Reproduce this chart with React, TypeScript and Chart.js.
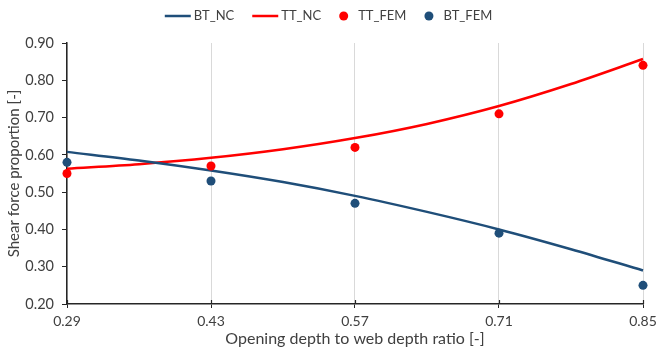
import React, { useEffect, useRef } from "react";
import { Chart, registerables } from "chart.js";

Chart.register(...registerables);

const xTicks = [0.29, 0.43, 0.57, 0.71, 0.85];
const yTicks = [0.2, 0.3, 0.4, 0.5, 0.6, 0.7, 0.8, 0.9];
const femX = [0.29, 0.43, 0.57, 0.71, 0.85];
const ttFem = [0.55, 0.57, 0.62, 0.71, 0.84];
const btFem = [0.58, 0.53, 0.47, 0.39, 0.25];
const ncX = [0.29, 0.36, 0.43, 0.5, 0.57, 0.64, 0.71, 0.78, 0.85];
const btNc = [0.608, 0.585, 0.558, 0.527, 0.49, 0.447, 0.4, 0.347, 0.29];
const ttNc = [0.563, 0.575, 0.592, 0.615, 0.645, 0.683, 0.731, 0.79, 0.857];

const BLUE = "#1f4e79";
const RED = "#ff0000";
const TEXT = "#404040";
const AXIS = "#262626";
const FONT = "Lato";

const pts = (xs: number[], ys: number[]) => xs.map((x, i) => ({ x, y: ys[i] }));

const legendPlugin = {
  id: "customLegend",
  afterDraw(chart: any) {
    const ctx = chart.ctx;
    ctx.save();
    ctx.font = `13px ${FONT}`;
    ctx.textBaseline = "middle";
    const y = 16;
    const items = chart.data.datasets.map((d: any) => {
      const isLine = d.type === "line";
      const symW = isLine ? 26 : 9;
      const gap = isLine ? 3 : 10;
      const tw = ctx.measureText(d.label).width;
      return { d, isLine, symW, gap, tw, w: symW + gap + tw };
    });
    const itemGap = 18;
    const total = items.reduce((s: number, it: any) => s + it.w, 0) + itemGap * (items.length - 1);
    let x = chart.width / 2 - total / 2;
    for (const it of items) {
      if (it.isLine) {
        ctx.strokeStyle = it.d.borderColor;
        ctx.lineWidth = 2.5;
        ctx.beginPath();
        ctx.moveTo(x, y);
        ctx.lineTo(x + it.symW, y);
        ctx.stroke();
      } else {
        ctx.fillStyle = it.d.backgroundColor;
        ctx.beginPath();
        ctx.arc(x + it.symW / 2, y, 4.5, 0, Math.PI * 2);
        ctx.fill();
      }
      ctx.fillStyle = TEXT;
      ctx.fillText(it.d.label, x + it.symW + it.gap, y);
      x += it.w + itemGap;
    }
    ctx.restore();
  },
};

const innerTicksPlugin = {
  id: "innerTicks",
  afterDatasetsDraw(chart: any) {
    const ctx = chart.ctx;
    const xs = chart.scales.x;
    const bottom = chart.chartArea.bottom;
    ctx.save();
    ctx.strokeStyle = AXIS;
    ctx.lineWidth = 1.2;
    for (const v of xTicks) {
      const px = Math.round(xs.getPixelForValue(v)) + 0.5;
      ctx.beginPath();
      ctx.moveTo(px, bottom - 4);
      ctx.lineTo(px, bottom);
      ctx.stroke();
    }
    ctx.restore();
  },
};

export default function App() {
  const ref = useRef<HTMLCanvasElement | null>(null);
  useEffect(() => {
    if (!ref.current) return;
    const chart = new Chart(ref.current, {
      type: "scatter",
      data: {
        datasets: [
          {
            type: "line",
            label: "BT_NC",
            data: pts(ncX, btNc),
            borderColor: BLUE,
            backgroundColor: BLUE,
            borderWidth: 2.5,
            pointRadius: 0,
            tension: 0.4,
            cubicInterpolationMode: "monotone",
            order: 3,
            clip: false,
          },
          {
            type: "line",
            label: "TT_NC",
            data: pts(ncX, ttNc),
            borderColor: RED,
            backgroundColor: RED,
            borderWidth: 2.5,
            pointRadius: 0,
            tension: 0.4,
            cubicInterpolationMode: "monotone",
            order: 4,
            clip: false,
          },
          {
            type: "scatter",
            label: "TT_FEM",
            data: pts(femX, ttFem),
            borderColor: RED,
            backgroundColor: RED,
            pointRadius: 4.5,
            pointBorderWidth: 0,
            order: 1,
            clip: false,
          },
          {
            type: "scatter",
            label: "BT_FEM",
            data: pts(femX, btFem),
            borderColor: BLUE,
            backgroundColor: BLUE,
            pointRadius: 4.5,
            pointBorderWidth: 0,
            order: 2,
            clip: false,
          },
        ],
      } as any,
      options: {
        animation: false,
        responsive: false,
        devicePixelRatio: 1,
        layout: { padding: { top: 43, right: 14, left: 0, bottom: 0 } },
        plugins: { legend: { display: false }, tooltip: { enabled: false } },
        scales: {
          x: {
            type: "linear",
            min: 0.29,
            max: 0.85,
            afterBuildTicks: (s: any) => {
              s.ticks = xTicks.map((v) => ({ value: v }));
            },
            afterFit: (s: any) => {
              s.height = 49;
              s.paddingRight = 0;
              s.paddingLeft = 0;
            },
            ticks: {
              color: TEXT,
              font: { family: FONT, size: 14 },
              padding: 5,
              maxRotation: 0,
              callback: (v: any) => Number(v).toFixed(2),
            },
            grid: {
              color: "#d9d9d9",
              lineWidth: 1,
              tickColor: AXIS,
              tickLength: 4,
            },
            border: { color: AXIS, width: 1.5 },
            title: {
              display: true,
              text: "Opening depth to web depth ratio [-]",
              color: TEXT,
              font: { family: FONT, size: 16 },
              padding: { top: 0, bottom: 5 },
            },
          },
          y: {
            type: "linear",
            min: 0.2,
            max: 0.9,
            afterBuildTicks: (s: any) => {
              s.ticks = yTicks.map((v) => ({ value: v }));
            },
            afterFit: (s: any) => {
              s.width = 67;
              s.paddingTop = 0;
              s.paddingBottom = 0;
            },
            ticks: {
              color: TEXT,
              font: { family: FONT, size: 14.5 },
              padding: 8,
              callback: (v: any) => Number(v).toFixed(2),
            },
            grid: {
              drawOnChartArea: false,
              tickColor: AXIS,
              tickLength: 5,
            },
            border: { color: AXIS, width: 1.5 },
            title: {
              display: true,
              text: "Shear force proportion [-]",
              color: TEXT,
              font: { family: FONT, size: 15 },
              padding: { top: 5, bottom: 0 },
            },
          },
        },
      },
      plugins: [legendPlugin, innerTicksPlugin],
    });
    return () => chart.destroy();
  }, []);
  return (
    <div style={{ position: "fixed", left: 0, top: 0, width: 657, height: 353, background: "#fff" }}>
      <canvas ref={ref} width={657} height={353} style={{ display: "block" }} />
    </div>
  );
}
